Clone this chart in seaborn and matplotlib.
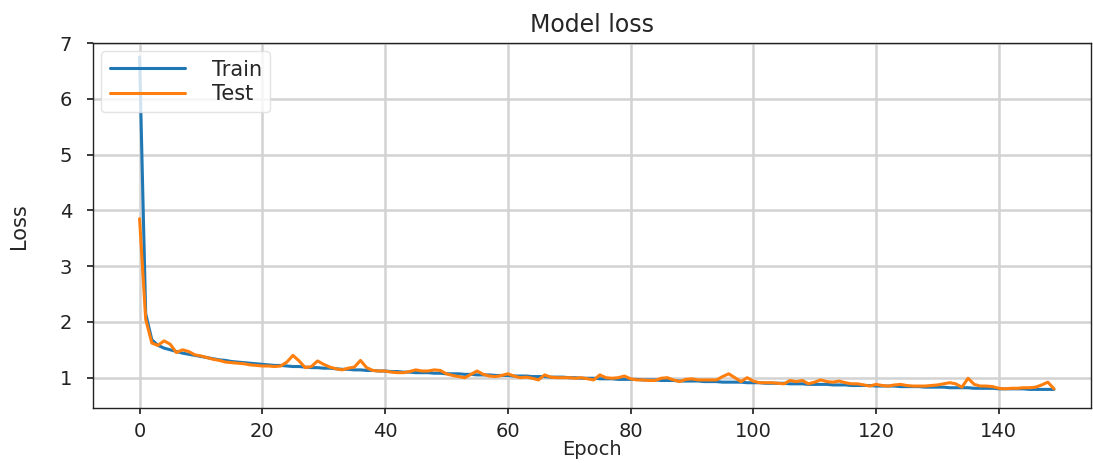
import matplotlib
matplotlib.use("Agg")
import matplotlib.pyplot as plt
import seaborn as sns
import pandas as pd

train_loss = [
    6.75, 2.15, 1.68, 1.58, 1.53, 1.50, 1.47, 1.44, 1.42, 1.40,
    1.38, 1.36, 1.34, 1.32, 1.31, 1.29, 1.28, 1.27, 1.26, 1.25,
    1.24, 1.23, 1.22, 1.22, 1.21, 1.20, 1.20, 1.19, 1.18, 1.18,
    1.17, 1.17, 1.16, 1.15, 1.15, 1.14, 1.14, 1.13, 1.13, 1.12,
    1.12, 1.11, 1.11, 1.10, 1.10, 1.09, 1.09, 1.09, 1.08, 1.08,
    1.07, 1.07, 1.07, 1.06, 1.06, 1.05, 1.05, 1.05, 1.04, 1.04,
    1.04, 1.03, 1.03, 1.03, 1.02, 1.02, 1.02, 1.01, 1.01, 1.01,
    1.00, 1.00, 0.99, 0.99, 0.99, 0.98, 0.98, 0.98, 0.97, 0.97,
    0.97, 0.97, 0.96, 0.96, 0.96, 0.95, 0.95, 0.95, 0.94, 0.94,
    0.94, 0.94, 0.93, 0.93, 0.93, 0.92, 0.92, 0.92, 0.92, 0.91,
    0.91, 0.91, 0.90, 0.90, 0.90, 0.90, 0.89, 0.89, 0.89, 0.88,
    0.88, 0.88, 0.88, 0.87, 0.87, 0.87, 0.86, 0.86, 0.86, 0.86,
    0.85, 0.85, 0.85, 0.85, 0.84, 0.84, 0.84, 0.84, 0.83, 0.83,
    0.83, 0.83, 0.82, 0.82, 0.82, 0.82, 0.81, 0.81, 0.81, 0.81,
    0.80, 0.80, 0.80, 0.80, 0.80, 0.79, 0.79, 0.79, 0.79, 0.79,
]

test_loss = [
    3.85, 2.05, 1.62, 1.58, 1.66, 1.60, 1.45, 1.50, 1.47, 1.41,
    1.39, 1.36, 1.33, 1.31, 1.28, 1.27, 1.26, 1.25, 1.23, 1.22,
    1.21, 1.21, 1.20, 1.21, 1.28, 1.40, 1.30, 1.18, 1.20, 1.30,
    1.24, 1.19, 1.16, 1.14, 1.17, 1.19, 1.31, 1.18, 1.13, 1.12,
    1.12, 1.10, 1.09, 1.09, 1.11, 1.14, 1.12, 1.12, 1.14, 1.13,
    1.07, 1.04, 1.02, 1.00, 1.06, 1.12, 1.06, 1.03, 1.02, 1.04,
    1.07, 1.03, 1.00, 1.01, 0.99, 0.96, 1.05, 1.01, 1.00, 1.00,
    1.00, 0.99, 1.00, 0.98, 0.96, 1.05, 1.00, 0.99, 1.00, 1.03,
    0.98, 0.96, 0.96, 0.95, 0.95, 0.99, 1.00, 0.96, 0.93, 0.97,
    0.98, 0.96, 0.96, 0.96, 0.96, 1.02, 1.07, 1.00, 0.93, 1.00,
    0.94, 0.91, 0.91, 0.91, 0.90, 0.89, 0.95, 0.93, 0.95, 0.89,
    0.92, 0.96, 0.93, 0.92, 0.94, 0.91, 0.89, 0.89, 0.87, 0.85,
    0.88, 0.86, 0.85, 0.87, 0.88, 0.86, 0.85, 0.85, 0.85, 0.86,
    0.87, 0.89, 0.91, 0.89, 0.83, 0.99, 0.88, 0.85, 0.85, 0.84,
    0.81, 0.80, 0.81, 0.81, 0.82, 0.82, 0.83, 0.87, 0.92, 0.80,
]

series_names = ["Train", "Test"]
title = "Model loss"
x_label = "Epoch"
y_label = "Loss"

epochs = list(range(len(train_loss)))
df = pd.DataFrame({
    "Epoch": epochs * 2,
    "Loss": train_loss + test_loss,
    "Series": [series_names[0]] * len(train_loss) + [series_names[1]] * len(test_loss),
})

sns.set_theme(style="whitegrid", rc={
    "axes.edgecolor": "#222222",
    "axes.linewidth": 1.0,
    "grid.color": "#d2d2d2",
    "grid.linewidth": 1.8,
    "xtick.bottom": True,
    "ytick.left": True,
    "xtick.major.size": 4,
    "ytick.major.size": 4,
    "xtick.color": "#222222",
    "ytick.color": "#222222",
})
plt.rcParams["font.family"] = ["DejaVu Sans"]

fig = plt.figure(figsize=(10.93, 4.63), dpi=100)
ax = fig.add_axes([0.085, 0.118, 0.913, 0.789])

sns.lineplot(data=df, x="Epoch", y="Loss", hue="Series",
             palette=["#1f77b4", "#ff7f0e"], linewidth=2.2, ax=ax)

ax.set_xlim(-7.6, 155.0)
ax.set_ylim(0.45, 7.0)
ax.set_xticks([0, 20, 40, 60, 80, 100, 120, 140])
ax.set_yticks([1, 2, 3, 4, 5, 6, 7])
ax.tick_params(axis="x", labelsize=14, pad=6)
ax.tick_params(axis="y", labelsize=14, pad=11)
ax.set_title(title, fontsize=17, pad=8)
ax.set_xlabel(x_label, fontsize=14, labelpad=-1)
ax.set_ylabel(y_label, fontsize=15, labelpad=22)

leg = ax.legend(loc="upper left", fontsize=15, frameon=True,
                borderaxespad=0.4, handlelength=3.6, handletextpad=1.3,
                labelspacing=0.2, borderpad=0.4)
leg.get_frame().set_edgecolor("#dddddd")

fig.savefig("out.png", dpi=100)
